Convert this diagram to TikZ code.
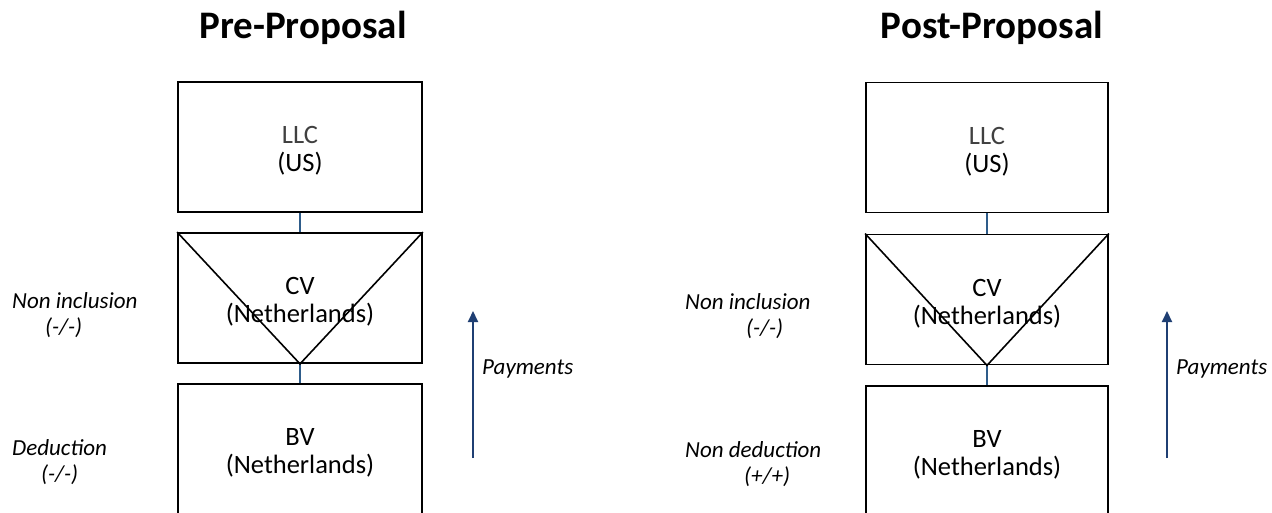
\documentclass[tikz,border=0pt]{standalone}
\usepackage{fontspec}
\setmainfont{Carlito}
\usetikzlibrary{arrows.meta}
\definecolor{linkblue}{HTML}{2E5C8A}
\definecolor{arrowblue}{HTML}{1F3F73}
\newcommand{\toppad}{\rule{0pt}{25pt}}
\begin{document}
\begin{tikzpicture}[x=1pt,y=-1pt,
 entity/.style={draw=black, line width=1.8pt, minimum width=244pt, minimum height=130pt, inner sep=0pt, align=center, font=\fontsize{26.5}{28}\selectfont},
 link/.style={draw=linkblue, line width=2pt},
 vmark/.style={draw=black, line width=1.6pt},
 note/.style={font=\fontsize{23}{26}\selectfont\itshape, align=left, inner sep=0pt},
 heading/.style={font=\fontsize{39}{42}\selectfont\bfseries},
 pay/.style={draw=arrowblue, line width=2pt, -{Triangle[length=11pt,width=10pt]}}]
\useasboundingbox (0,0) rectangle (1272,513);
\clip (0,0) rectangle (1272,513);
\fill[white] (0,0) rectangle (1272,513);

% Pre-Proposal
\node[heading] (tA) at (303,28) {Pre-Proposal};
\node[entity] (llcA) at (300,147) {\toppad\textcolor{darkgray}{LLC}\\(US)};
\node[entity] (cvA) at (300,298) {\toppad CV\\(Netherlands)};
\node[entity] (bvA) at (300,449) {\toppad BV\\(Netherlands)};
\draw[link] (llcA.south) -- (cvA.north);
\draw[link] (cvA.south) -- (bvA.north);
\draw[vmark] (cvA.north west) -- (cvA.south) -- (cvA.north east);
\node[note, anchor=west] (niA) at (12,315) {Non inclusion\\\hspace{33pt}(-/-)};
\node[note, anchor=west] (dA) at (12,462) {Deduction\\\hspace{29pt}(-/-)};
\coordinate (pA0) at (473,458);
\coordinate (pA1) at (473,311);
\draw[pay] (pA0) -- (pA1);
\node[note, anchor=west] (payA) at (482,369) {Payments};

% Post-Proposal
\node[heading] (tB) at (992,28) {Post-Proposal};
\node[entity, minimum width=242pt] (llcB) at (987,147.5) {\toppad\textcolor{darkgray}{LLC}\\(US)};
\node[entity, minimum width=242pt] (cvB) at (987,299.5) {\toppad CV\\(Netherlands)};
\node[entity, minimum width=242pt] (bvB) at (987,451) {\toppad BV\\(Netherlands)};
\draw[link] (llcB.south) -- (cvB.north);
\draw[link] (cvB.south) -- (bvB.north);
\draw[vmark] (cvB.north west) -- (cvB.south) -- (cvB.north east);
\node[note, anchor=west] (niB) at (685,316) {Non inclusion\\\hspace{61pt}(-/-)};
\node[note, anchor=west] (ndB) at (685,464) {Non deduction\\\hspace{59pt}(+/+)};
\coordinate (pB0) at (1167,458);
\coordinate (pB1) at (1167,311);
\draw[pay] (pB0) -- (pB1);
\node[note, anchor=west] (payB) at (1176,369) {Payments};
\end{tikzpicture}
\end{document}
